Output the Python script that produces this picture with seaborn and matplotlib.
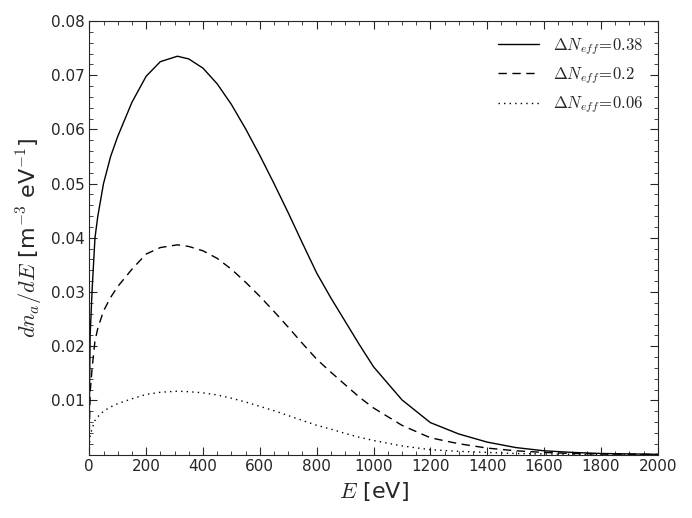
import matplotlib
matplotlib.use("Agg")
import matplotlib.pyplot as plt
import numpy as np
import pandas as pd
import seaborn as sns

sns.set_style("ticks", {"xtick.direction": "in", "ytick.direction": "in"})
plt.rcParams["font.family"] = ["DejaVu Sans"]
plt.rcParams["mathtext.fontset"] = "cm"

energy = [0, 3, 10, 20, 30, 50, 75, 100, 150, 200, 250, 310, 350, 400, 450, 500, 550,
          600, 650, 700, 750, 800, 850, 900, 950, 1000, 1100, 1200, 1300, 1400, 1500,
          1600, 1700, 1800, 2000]
dn_038 = [0.0075, 0.022, 0.0305, 0.040, 0.044, 0.050, 0.055, 0.0587, 0.065, 0.0698,
          0.0725, 0.0735, 0.0730, 0.0713, 0.0684, 0.0646, 0.0601, 0.0552, 0.0500,
          0.0446, 0.0390, 0.0335, 0.0289, 0.0246, 0.0203, 0.0162, 0.0101, 0.0059,
          0.0038, 0.0023, 0.0013, 0.0007, 0.0004, 0.0002, 0.00005]
dn_020 = [0.004, 0.0115, 0.016, 0.021, 0.0233, 0.0265, 0.0290, 0.0310, 0.0342, 0.0370,
          0.0382, 0.0387, 0.0384, 0.0376, 0.0362, 0.0342, 0.0318, 0.0292, 0.0264,
          0.0235, 0.0205, 0.0176, 0.0152, 0.0129, 0.0106, 0.0086, 0.0054, 0.0031,
          0.0020, 0.0012, 0.0007, 0.0004, 0.0002, 0.0001, 0.00003]
dn_006 = [0.0012, 0.0035, 0.0048, 0.0063, 0.0070, 0.0080, 0.0088, 0.0094, 0.0103,
          0.0111, 0.0115, 0.0117, 0.0116, 0.0114, 0.0110, 0.0104, 0.0097, 0.0089,
          0.0081, 0.0072, 0.0063, 0.0054, 0.0047, 0.0039, 0.0032, 0.0026, 0.0016,
          0.0009, 0.0006, 0.0004, 0.0002, 0.00012, 0.00006, 0.00003, 0.0]

labels = [r"$\Delta N_{eff}\!=\!0.38$", r"$\Delta N_{eff}\!=\!0.2$", r"$\Delta N_{eff}\!=\!0.06$"]
dashes = [None, (6, 4), (1, 3)]

df = pd.DataFrame({"E": energy * 3,
                   "dn": dn_038 + dn_020 + dn_006,
                   "case": np.repeat(labels, len(energy))})

fig, ax = plt.subplots(figsize=(6.92, 5.18), dpi=100)
for lab, dsh in zip(labels, dashes):
    sub = df[df["case"] == lab]
    line_ax = sns.lineplot(data=sub, x="E", y="dn", ax=ax, color="black",
                           linewidth=1.0, label=lab)
    if dsh is not None:
        line_ax.lines[-1].set_dashes(dsh)

ax.set_xlim(0, 2000)
ax.set_ylim(0, 0.08)
ax.set_xticks(np.arange(0, 2001, 200))
ax.set_yticks(np.arange(0.01, 0.081, 0.01))
ax.set_yticklabels([f"{v:.2f}" for v in np.arange(0.01, 0.081, 0.01)])
ax.tick_params(top=True, right=True, labelsize=11, length=6)
ax.minorticks_on()
ax.tick_params(which="minor", top=True, right=True, length=3, direction="in")
ax.set_xlabel(r"$E$ [eV]", fontsize=16)
ax.set_ylabel(r"$dn_a/dE$ [m$^{-3}$ eV$^{-1}$]", fontsize=16)
leg = ax.legend(frameon=False, loc="upper right", fontsize=12, handlelength=2.5)
for h, dsh in zip(leg.get_lines(), dashes):
    if dsh is not None:
        h.set_dashes(dsh)

plt.tight_layout()
plt.savefig("out.png", dpi=100)
